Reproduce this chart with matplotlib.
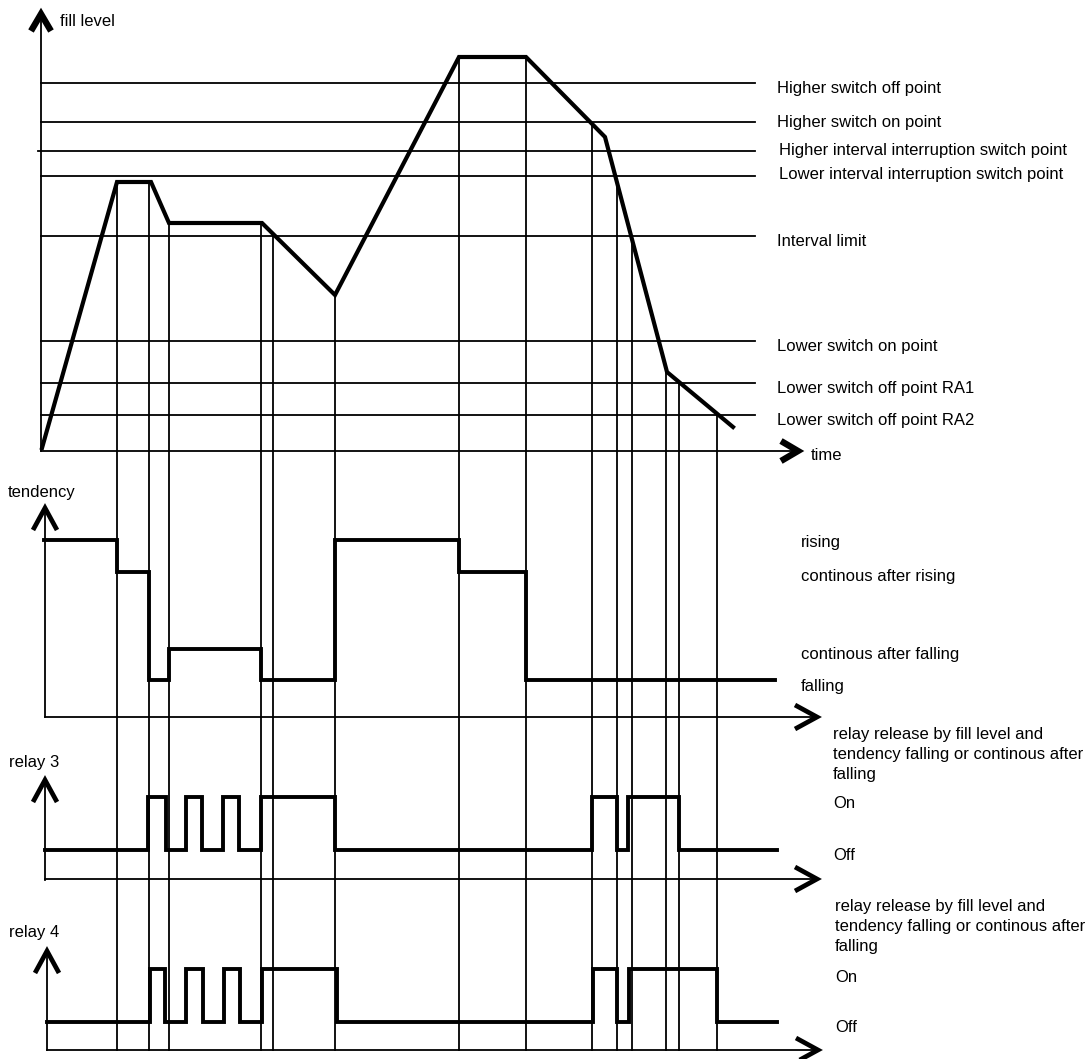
import numpy as np
import matplotlib
matplotlib.use("Agg")
import matplotlib.pyplot as plt

W, H = 1090, 1059

# ---------------- data (diagram units: x = time, y = screen height) ----------------
# fill level curve vertices
fill_t = [42, 117, 151, 169, 262, 335, 459, 526, 605, 667, 733]
fill_y = [448, 182, 182, 223, 223, 295, 57, 57, 137, 372, 427]

threshold_labels = ["Higher switch off point", "Higher switch on point",
                    "Higher interval interruption switch point",
                    "Lower interval interruption switch point", "Interval limit",
                    "Lower switch on point", "Lower switch off point RA1",
                    "Lower switch off point RA2"]
threshold_y = [83, 122, 151, 176, 236, 341, 383, 415]
threshold_x0 = [41, 41, 38, 41, 41, 41, 41, 41]
threshold_label_x = [777, 777, 779, 779, 777, 777, 777, 777]
threshold_label_y = [88, 122, 151, 175, 241, 347, 388, 420]

# event times (vertical guide lines)
event_t = [117, 149, 169, 261, 273, 335, 459, 526, 592, 617, 632, 666, 679, 717]

# tendency
tend_names = ["rising", "continous after rising", "continous after falling", "falling"]
tend_level_y = [540, 572, 649, 680]
tend_label_y = [543, 577, 655, 686]
tend_t = [44, 117, 149, 169, 261, 335, 459, 526, 775]
tend_state = [0, 1, 3, 2, 3, 0, 1, 3, 3]

# relays (1 = On, 0 = Off)
relay3_t = [45, 148, 166, 186, 202, 223, 239, 261, 335, 592, 617, 628, 679, 777]
relay3_s = [0, 1, 0, 1, 0, 1, 0, 1, 0, 1, 0, 1, 0, 0]
relay4_t = [47, 150, 165, 186, 203, 224, 240, 262, 337, 593, 617, 629, 717, 777]
relay4_s = [0, 1, 0, 1, 0, 1, 0, 1, 0, 1, 0, 1, 0, 0]
relay3_on_off_y = [797, 850]
relay4_on_off_y = [969, 1022]

release_text = ["relay release by fill level and",
                "tendency falling or continous after",
                "falling"]

# ---------------- drawing ----------------
plt.rcParams['font.family'] = ['Liberation Sans', 'DejaVu Sans']
fig = plt.figure(figsize=(W / 100, H / 100), dpi=100)
ax = fig.add_axes([0, 0, 1, 1])
ax.set_xlim(0, W)
ax.set_ylim(H, 0)
ax.axis('off')

K = 'black'
FS = 12
LW_THIN = 1.3
LW_AX = 1.3
LW_THICK = 2.8


def chevron(x, y, direction, length=22, half=12, lw=3.0):
    if direction == 'up':
        ax.plot([x - half, x, x + half], [y + length, y, y + length], color=K, lw=lw,
                solid_joinstyle='miter', solid_capstyle='butt', zorder=6)
    else:
        ax.plot([x - length, x, x - length], [y - half, y, y + half], color=K, lw=lw,
                solid_joinstyle='miter', solid_capstyle='butt', zorder=6)


# vertical guide lines from fill curve down to bottom
tops = np.interp(event_t, fill_t, fill_y)
for t, top in zip(event_t, tops):
    ax.plot([t, t], [top, 1050], color=K, lw=LW_THIN, zorder=2)

# threshold lines and labels
for x0, y, lab, lx, ly in zip(threshold_x0, threshold_y, threshold_labels,
                              threshold_label_x, threshold_label_y):
    ax.plot([x0, 755], [y, y], color=K, lw=LW_THIN, zorder=2)
    ax.text(lx, ly, lab, fontsize=FS, va='center', ha='left')

# fill level axes
ax.plot([41, 41], [451, 14], color=K, lw=LW_AX, zorder=3)
ax.plot([41, 798], [451, 451], color=K, lw=LW_AX, zorder=3)
chevron(41, 14, 'up', length=17, half=10, lw=4.6)
chevron(798, 451, 'right', length=17, half=10, lw=4.6)
ax.text(60, 21, "fill level", fontsize=FS, va='center', ha='left')
ax.text(811, 456, "time", fontsize=FS, va='center', ha='left')

# fill curve
ax.plot(fill_t, fill_y, color=K, lw=3.0, solid_joinstyle='miter', zorder=5)

# tendency panel
ax.plot([45, 45], [717, 508], color=K, lw=LW_AX, zorder=3)
ax.plot([45, 817], [717, 717], color=K, lw=LW_AX, zorder=3)
chevron(45, 508, 'up', lw=3.4)
chevron(817, 717, 'right', lw=3.4)
ax.text(8, 493, "tendency", fontsize=FS, va='center', ha='left')
tend_y = [tend_level_y[s] for s in tend_state]
ax.step(tend_t, tend_y, where='post', color=K, lw=LW_THICK,
        solid_joinstyle='miter', zorder=5)
for name, ly in zip(tend_names, tend_label_y):
    ax.text(801, ly, name, fontsize=FS, va='center', ha='left')

# relay 3 panel
ax.plot([45, 45], [880, 780], color=K, lw=LW_AX, zorder=3)
ax.plot([45, 817], [879, 879], color=K, lw=LW_AX, zorder=3)
chevron(45, 780, 'up', lw=3.4)
chevron(817, 879, 'right', lw=3.4)
ax.text(9, 763, "relay 3", fontsize=FS, va='center', ha='left')
r3y = [relay3_on_off_y[0] if s else relay3_on_off_y[1] for s in relay3_s]
ax.step(relay3_t, r3y, where='post', color=K, lw=LW_THICK,
        solid_joinstyle='miter', zorder=5)
for i, line in enumerate(release_text):
    ax.text(833, 735 + 20 * i, line, fontsize=FS, va='center', ha='left')
ax.text(833, 804, "On", fontsize=FS, va='center', ha='left')
ax.text(833, 856, "Off", fontsize=FS, va='center', ha='left')

# relay 4 panel
ax.plot([47, 47], [1050, 951], color=K, lw=LW_AX, zorder=3)
ax.plot([47, 818], [1050, 1050], color=K, lw=LW_AX, zorder=3)
chevron(47, 951, 'up', lw=3.4)
chevron(818, 1050, 'right', lw=3.4)
ax.text(9, 933, "relay 4", fontsize=FS, va='center', ha='left')
r4y = [relay4_on_off_y[0] if s else relay4_on_off_y[1] for s in relay4_s]
ax.step(relay4_t, r4y, where='post', color=K, lw=LW_THICK,
        solid_joinstyle='miter', zorder=5)
for i, line in enumerate(release_text):
    ax.text(835, 907 + 20 * i, line, fontsize=FS, va='center', ha='left')
ax.text(835, 977, "On", fontsize=FS, va='center', ha='left')
ax.text(835, 1028, "Off", fontsize=FS, va='center', ha='left')

fig.savefig("out.png", dpi=100, facecolor='white')
